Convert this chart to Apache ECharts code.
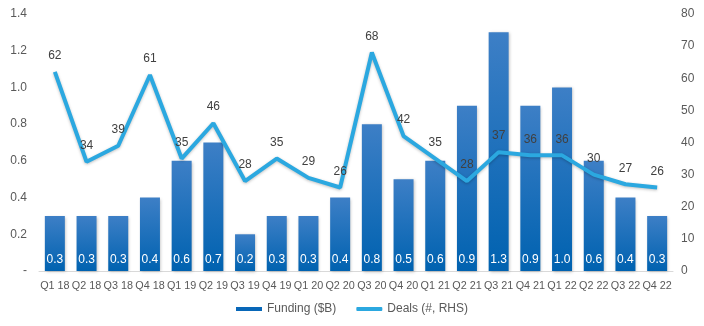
<!DOCTYPE html>
<html><head><meta charset="utf-8">
<script src="https://cdn.jsdelivr.net/npm/echarts@6/dist/echarts.min.js"></script>
<style>html,body{margin:0;padding:0;background:#fff}#c{width:704px;height:326px}</style>
</head><body><div id="c"></div>
<script>
const categories = ['Q1 18','Q2 18','Q3 18','Q4 18','Q1 19','Q2 19','Q3 19','Q4 19','Q1 20','Q2 20','Q3 20','Q4 20','Q1 21','Q2 21','Q3 21','Q4 21','Q1 22','Q2 22','Q3 22','Q4 22'];
const funding = [0.3,0.3,0.3,0.4,0.6,0.7,0.2,0.3,0.3,0.4,0.8,0.5,0.6,0.9,1.3,0.9,1.0,0.6,0.4,0.3];
const deals = [62,34,39,61,35,46,28,35,29,26,68,42,35,28,37,36,36,30,27,26];
const fundingName = 'Funding ($B)';
const dealsName = 'Deals (#, RHS)';

const chart = echarts.init(document.getElementById('c'));
const font = 'Liberation Sans, Arial, sans-serif';
chart.setOption({
  animation: false,
  textStyle: { fontFamily: font },
  grid: { left: 39, right: 31, top: 14, bottom: 55 },
  legend: {
    bottom: 6, left: 'center', itemGap: 20,
    textStyle: { color: '#595959', fontSize: 12, fontFamily: font },
    data: [
      { name: fundingName, icon: 'rect', itemStyle: { color: '#0867B8' } },
      { name: dealsName, icon: 'roundRect' }
    ],
    itemWidth: 26, itemHeight: 4
  },
  xAxis: {
    type: 'category', data: categories,
    axisLine: { show: true, lineStyle: { color: '#D9D9D9', width: 1 } },
    axisTick: { show: false },
    axisLabel: { color: '#595959', fontSize: 10.8, margin: 10, interval: 0 }
  },
  yAxis: [
    { type: 'value', min: 0, max: 1.4, interval: 0.2,
      splitLine: { show: false }, axisLine: { show: false }, axisTick: { show: false },
      axisLabel: { color: '#595959', fontSize: 12, margin: 12,
        formatter: v => v === 0 ? '-' : v.toFixed(1) } },
    { type: 'value', min: 0, max: 80, interval: 10,
      splitLine: { show: false }, axisLine: { show: false }, axisTick: { show: false },
      axisLabel: { color: '#595959', fontSize: 12, margin: 8 } }
  ],
  series: [
    { name: fundingName, type: 'bar', data: funding, yAxisIndex: 0, barWidth: 20,
      itemStyle: {
        color: new echarts.graphic.LinearGradient(0,0,0,1,[
          { offset: 0, color: '#3D7FC6' }, { offset: 1, color: '#0062B0' }]),
        shadowColor: 'rgba(0,0,0,0.25)', shadowBlur: 3, shadowOffsetX: 1, shadowOffsetY: 1
      },
      label: { show: true, position: 'insideBottom', distance: 5, color: '#fff', fontSize: 12,
        formatter: p => p.value.toFixed(1) }
    },
    { name: dealsName, type: 'line', data: deals, yAxisIndex: 1, smooth: false,
      symbol: 'circle', symbolSize: 0.1, showSymbol: true, z: 5,
      lineStyle: { color: '#2BA8E0', width: 4, shadowColor: 'rgba(0,0,0,0.25)', shadowBlur: 3, shadowOffsetY: 1 },
      itemStyle: { color: '#2BA8E0' },
      label: { show: true, position: 'top', distance: 10, color: '#404040', fontSize: 12 }
    }
  ]
});
</script></body></html>
